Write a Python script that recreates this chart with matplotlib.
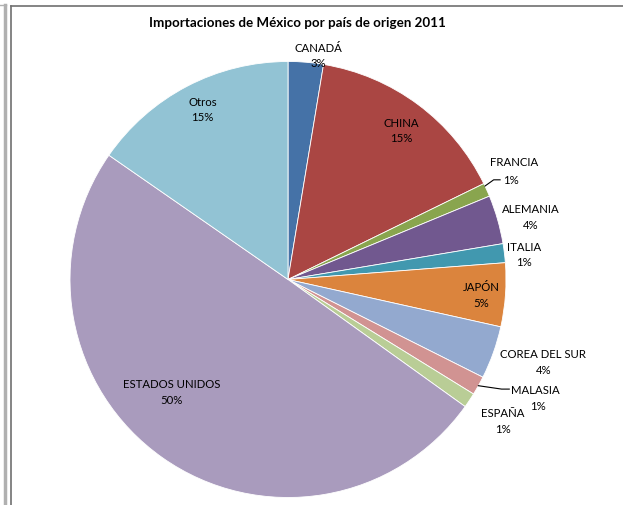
import numpy as np
import matplotlib
matplotlib.use("Agg")
import matplotlib.pyplot as plt
from matplotlib.lines import Line2D

plt.rcParams['font.family'] = ['Lato', 'DejaVu Sans']

# Import shares by country of origin (percent of total)
countries = ["CANADÁ", "CHINA", "FRANCIA", "ALEMANIA", "ITALIA", "JAPÓN",
             "COREA DEL SUR", "MALASIA", "ESPAÑA", "ESTADOS UNIDOS", "Otros"]
shares = [2.6, 15.1, 1.0, 3.6, 1.4, 4.7, 3.9, 1.4, 1.1, 49.6, 15.3]
colors = ["#4572A7", "#AA4643", "#89A54E", "#71588F", "#4198AF", "#DB843D",
          "#93A9CF", "#D19392", "#B9CD96", "#A99BBD", "#92C3D4"]
title = "Importaciones de México por país de origen 2011"

# label placement: radial distance (in pie radii) and angular nudge (degrees, clockwise)
label_r = [1.04, 0.86, 1.16, 1.15, 1.09, 0.89, 1.23, 1.24, 1.18, 0.74, 0.875]
label_nudge = [3.0, 0.4, -1.1, 1.4, 0.8, 0.4, -1.8, -3.2, -0.4, 10.9, 1.0]
leader = [False, False, True, False, False, False, False, True, False, False, False]

FS = 8.2
W, H = 623, 506
fig = plt.figure(figsize=(W / 100, H / 100), dpi=100)
fig.patch.set_facecolor("white")

cx, cy, R = 288, 280.5, 218
ax = fig.add_axes([(cx - R) / W, (H - cy - R) / H, 2 * R / W, 2 * R / H])
wedges, _ = ax.pie(shares, colors=colors, startangle=90, counterclock=False,
                   radius=1.0, wedgeprops=dict(edgecolor="white", linewidth=0.6))
ax.set_xlim(-1, 1)
ax.set_ylim(-1, 1)
ax.set_aspect("equal")
ax.axis("off")

total = sum(shares)
for w, name, val, r, nudge, lead in zip(wedges, countries, shares, label_r,
                                        label_nudge, leader):
    mid = 0.5 * (w.theta1 + w.theta2) - nudge
    t = np.deg2rad(mid)
    x, y = r * np.cos(t), r * np.sin(t)
    pct = f"{round(100 * val / total):.0f}%"
    if lead:
        # leader line from the wedge edge to the label
        if name == "FRANCIA":
            ex, ey = np.cos(t), np.sin(t)
            tx, ty = x - 0.075, y - 0.04
            ax.plot([ex, ex + 0.04, tx], [ey, ty, ty], color="black", lw=0.8,
                    clip_on=False)
            ax.text(x - 0.01, ty + 0.082, name, ha="center", va="center", fontsize=FS)
            ax.text(tx + 0.012, ty, pct, ha="left", va="center", fontsize=FS)
        else:
            tm = np.deg2rad(0.5 * (w.theta1 + w.theta2))
            ex, ey = np.cos(tm), np.sin(tm)
            tx, ty = x - 0.1, y + 0.04
            ax.plot([ex, tx - 0.035, tx], [ey, ty, ty], color="black", lw=0.8,
                    clip_on=False)
            ax.text(tx + 0.01, ty, name, ha="left", va="center", fontsize=FS)
            ax.text(x + 0.03, ty - 0.073, pct, ha="center", va="center", fontsize=FS)
    else:
        ax.text(x, y, f"{name}\n{pct}", ha="center", va="center", fontsize=FS,
                linespacing=1.5)

fig.text(297.5 / W, 1 - 23 / H, title, ha="center", va="center",
         fontsize=9.6, fontweight="bold")

# surrounding frame
frame = [
    ((4.5, 4.5), (0, H - 6), "#b0b0b0", 2.5),
    ((0, 5.5), (H - 5.5, H - 5.5), "#b0b0b0", 1.0),
    ((11, 11), (0, H - 7), "#707070", 1.2),
    ((11, W), (H - 7, H - 7), "#707070", 1.2),
]
for xs, ys, c, lw in frame:
    fig.add_artist(Line2D([x / W for x in xs], [y / H for y in ys],
                          color=c, lw=lw, transform=fig.transFigure))

fig.savefig("out.png", dpi=100, facecolor="white")
